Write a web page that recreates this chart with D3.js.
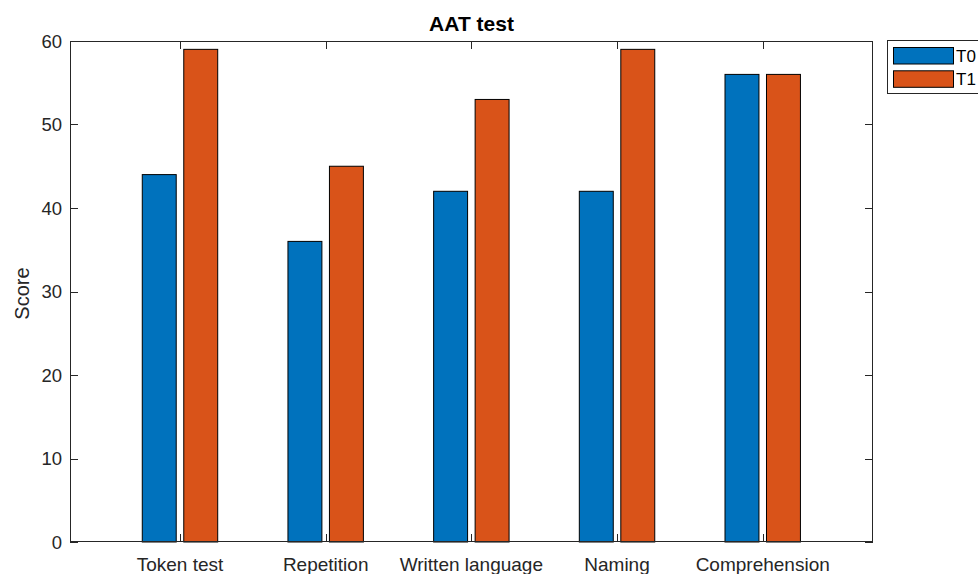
<!DOCTYPE html>
<html>
<head>
<meta charset="utf-8">
<script src="https://cdn.jsdelivr.net/npm/d3@7"></script>
<style>
  body { margin: 0; background: #fff; }
  svg { display: block; font-family: "Liberation Sans", Arial, Helvetica, sans-serif; }
</style>
</head>
<body>
<svg id="chart" width="978" height="574"></svg>
<script>
// AAT subtest scores at two time points
const categories = ["Token test", "Repetition", "Written language", "Naming", "Comprehension"];
const seriesNames = ["T0", "T1"];
const scoresT0 = [44, 36, 42, 42, 56];
const scoresT1 = [59, 45, 53, 59, 56];
const yTicks = [0, 10, 20, 30, 40, 50, 60];
const colors = ["#0072BD", "#D95319"];

const svg = d3.select("#chart");
const plotL = 70, plotR = 873, plotT = 41, plotB = 542;

// categories sit at 1..N on a numeric axis
const x = d3.scaleLinear().domain([0.245, 5.757]).range([plotL, plotR]);
const y = d3.scaleLinear().domain([0, 60]).range([plotB, plotT]);

const groupOffset = 0.1424;  // centre offset of each bar within its group
const barWidth = 0.233;      // bar width in category units
const bw = x(1 + barWidth) - x(1);

const series = [scoresT0, scoresT1];
const axisColor = "#262626";
const tickLen = 8;

// plot background
svg.append("rect").attr("x", plotL).attr("y", plotT)
  .attr("width", plotR - plotL).attr("height", plotB - plotT).attr("fill", "#fff");

// bars
series.forEach((vals, si) => {
  const off = si === 0 ? -groupOffset : groupOffset;
  svg.append("g").selectAll("rect").data(vals).join("rect")
    .attr("x", (d, i) => x(i + 1 + off) - bw / 2)
    .attr("y", d => y(d))
    .attr("width", bw)
    .attr("height", d => y(0) - y(d))
    .attr("fill", colors[si])
    .attr("stroke", "#000")
    .attr("stroke-width", 1);
});

// box + inward ticks
const frame = svg.append("g").attr("stroke", axisColor).attr("stroke-width", 1).attr("fill", "none");
frame.append("rect").attr("x", plotL + 0.5).attr("y", plotT + 0.5)
  .attr("width", plotR - plotL - 1).attr("height", plotB - plotT - 1);

yTicks.forEach(t => {
  const yy = Math.round(y(t)) + 0.5;
  frame.append("line").attr("x1", plotL).attr("x2", plotL + tickLen).attr("y1", yy).attr("y2", yy);
  frame.append("line").attr("x1", plotR - tickLen).attr("x2", plotR).attr("y1", yy).attr("y2", yy);
});
categories.forEach((c, i) => {
  const xx = Math.round(x(i + 1)) + 0.5;
  frame.append("line").attr("x1", xx).attr("x2", xx).attr("y1", plotB).attr("y2", plotB - tickLen);
  frame.append("line").attr("x1", xx).attr("x2", xx).attr("y1", plotT).attr("y2", plotT + tickLen);
});

// y tick labels
svg.append("g").selectAll("text").data(yTicks).join("text")
  .attr("x", plotL - 8).attr("y", d => y(d))
  .attr("dy", "0.36em").attr("text-anchor", "end")
  .attr("font-size", 18.5).attr("fill", axisColor)
  .text(d => d);

// x tick labels
svg.append("g").selectAll("text").data(categories).join("text")
  .attr("x", (d, i) => x(i + 1)).attr("y", 571)
  .attr("text-anchor", "middle")
  .attr("font-size", 19).attr("fill", axisColor)
  .text(d => d);

// y label
svg.append("text")
  .attr("transform", `translate(28.5, ${(plotT + plotB) / 2 + 2}) rotate(-90)`)
  .attr("text-anchor", "middle").attr("font-size", 20).attr("fill", axisColor)
  .text("Score");

// title
svg.append("text")
  .attr("x", (plotL + plotR) / 2).attr("y", 31)
  .attr("text-anchor", "middle").attr("font-size", 21).attr("font-weight", "bold")
  .attr("fill", "#000")
  .text("AAT test");

// legend
const lg = svg.append("g");
lg.append("rect").attr("x", 887.5).attr("y", 40.5).attr("width", 100).attr("height", 53)
  .attr("fill", "#fff").attr("stroke", axisColor).attr("stroke-width", 1);
seriesNames.forEach((name, i) => {
  const yy = 47.5 + i * 23.3;
  lg.append("rect").attr("x", 893.5).attr("y", yy).attr("width", 60).attr("height", 16.5)
    .attr("fill", colors[i]).attr("stroke", "#000").attr("stroke-width", 1);
  lg.append("text").attr("x", 956).attr("y", yy + 8.5).attr("dy", "0.36em")
    .attr("font-size", 17).attr("fill", "#000").text(name);
});
</script>
</body>
</html>
